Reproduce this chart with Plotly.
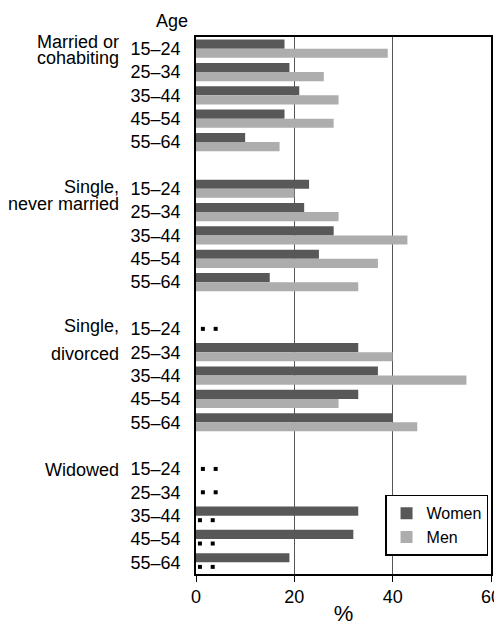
import plotly.graph_objects as go

# ---- data ----
groups = [["Married or", "cohabiting"], ["Single,", "never married"], ["Single,", "divorced"], ["Widowed"]]
ages = ["15–24", "25–34", "35–44", "45–54", "55–64"]
women = [
    [18, 19, 21, 18, 10],
    [23, 22, 28, 25, 15],
    [None, 33, 37, 33, 40],
    [None, None, 33, 32, 19],
]
men = [
    [39, 26, 29, 28, 17],
    [20, 29, 43, 37, 33],
    [None, 40, 55, 29, 45],
    [None, None, None, None, None],
]
x_ticks = [0, 20, 40, 60]

# ---- style ----
FONT = "Liberation Sans, Arial, sans-serif"
FS = 18
WOMEN_COLOR = "#585858"
MEN_COLOR = "#adadad"
BARGAP = 0.22
DOT_X = [1.4, 4.0]   # position of the ". ." missing-data marker
# vertical placement of each group-label line, in rows relative to the group's first row
LABEL_OFFSETS = [[-0.3, 0.38], [-0.06, 0.66], [-0.14, 1.07], [0.04]]

rows_per_group = len(ages) + 1
pos, tick_text, w_x, m_x = [], [], [], []
dot_x, dot_y = [], []
half = (1 - BARGAP) / 4  # offset of each bar centre from row centre
for g, grp in enumerate(groups):
    for a, age in enumerate(ages):
        p = g * rows_per_group + a
        pos.append(p)
        tick_text.append(age)
        wv, mv = women[g][a], men[g][a]
        w_x.append(wv)
        m_x.append(mv)
        if wv is None and mv is None:
            for dx in DOT_X:
                dot_x.append(dx); dot_y.append(p)
        elif mv is None:
            for dx in DOT_X:
                dot_x.append(dx - 0.6); dot_y.append(p + half)

fig = go.Figure()
fig.add_trace(go.Bar(y=pos, x=w_x, orientation="h", name="Women",
                     marker=dict(color=WOMEN_COLOR, line=dict(width=0))))
fig.add_trace(go.Bar(y=pos, x=m_x, orientation="h", name="Men",
                     marker=dict(color=MEN_COLOR, line=dict(width=0))))
fig.add_trace(go.Scatter(x=dot_x, y=dot_y, mode="markers", showlegend=False,
                         marker=dict(symbol="square", size=4, color="black"),
                         hoverinfo="skip"))

n_rows = len(groups) * rows_per_group - 1
# the page body adds an 8px margin, so the figure is sized to fit the 502x626 window
fig.update_layout(
    width=494, height=618,
    margin=dict(l=188, r=11, t=29, b=52, autoexpand=False),
    paper_bgcolor="white", plot_bgcolor="white",
    barmode="group", bargap=BARGAP, bargroupgap=0,
    font=dict(family=FONT, size=FS, color="black"),
    showlegend=True,
    legend=dict(x=0.99, y=0.034, xanchor="right", yanchor="bottom",
                bgcolor="white", bordercolor="black", borderwidth=1.5,
                traceorder="normal", font=dict(size=16),
                itemwidth=30, tracegroupgap=0),
)
fig.update_xaxes(range=[0, 60], tickvals=x_ticks, showgrid=True, gridcolor="#555555",
                 gridwidth=1, zeroline=False, showline=True, linecolor="black",
                 linewidth=1.5, mirror=True, ticks="outside", ticklen=6,
                 tickcolor="black", title=dict(text="%", standoff=4),
                 tickfont=dict(size=FS), automargin=False)
fig.update_yaxes(range=[n_rows - 0.5, -0.5], tickvals=pos, ticktext=tick_text,
                 showgrid=False, zeroline=False, showline=True, linecolor="black",
                 linewidth=1.5, mirror=True, ticks="", ticklabelstandoff=10,
                 tickfont=dict(size=FS), automargin=False)

# group labels
for g, grp in enumerate(groups):
    base = g * rows_per_group
    for line, off in zip(grp, LABEL_OFFSETS[g]):
        fig.add_annotation(text=line, xref="paper", yref="y", x=-0.255, y=base + off,
                           xanchor="right", yanchor="middle", showarrow=False,
                           font=dict(size=FS))
fig.add_annotation(text="Age", xref="paper", yref="paper", x=-0.02, y=1,
                   xanchor="right", yanchor="bottom", yshift=4, showarrow=False,
                   font=dict(size=FS))

fig.write_html("out.html")
